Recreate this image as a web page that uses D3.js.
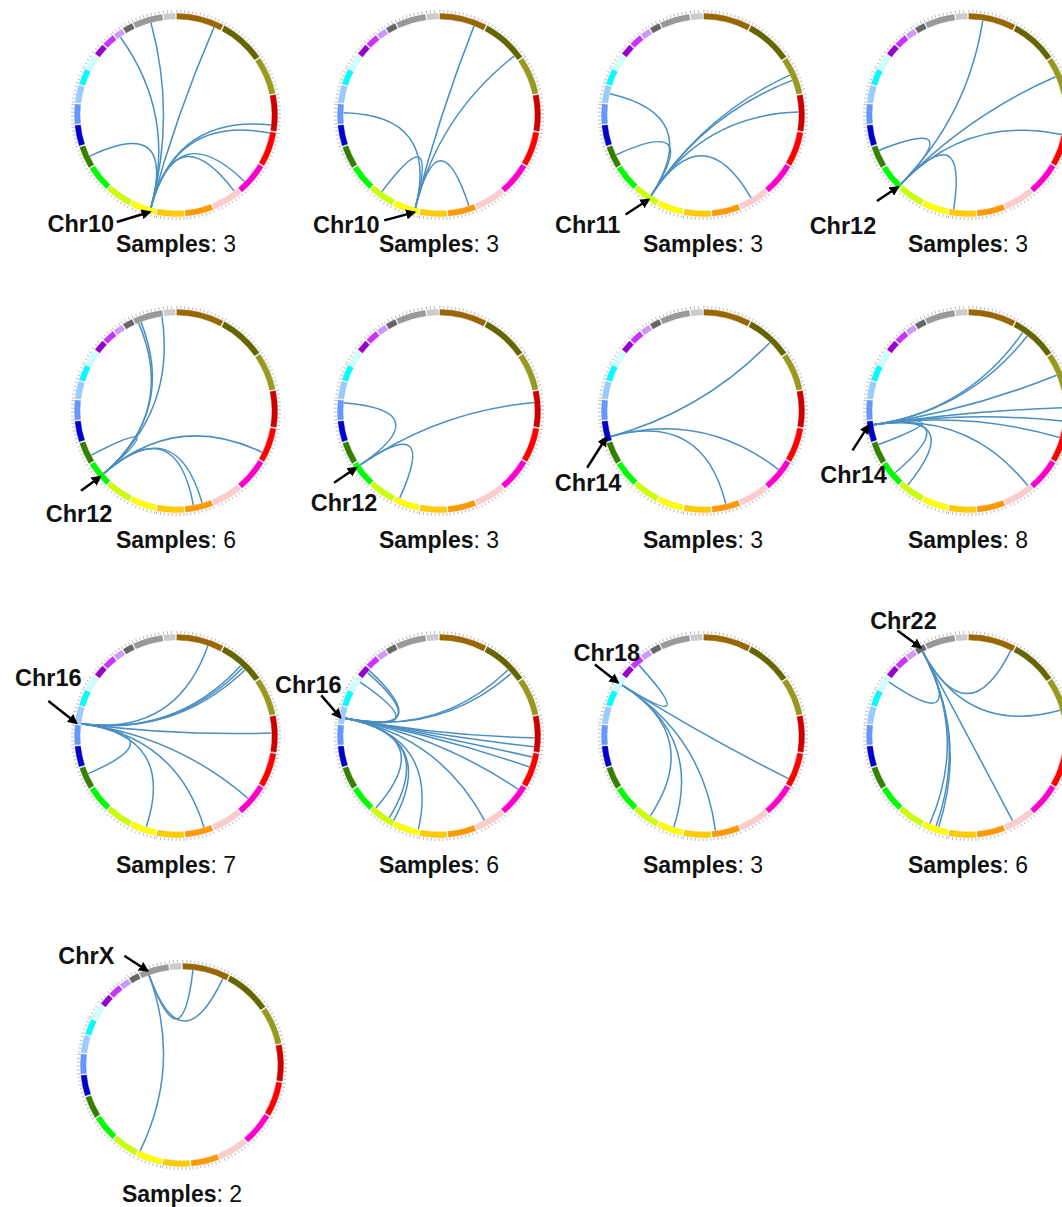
<!DOCTYPE html>
<html>
<head>
<meta charset="utf-8">
<script src="https://cdn.jsdelivr.net/npm/d3@7"></script>
<style>
	body { margin: 0; background: #fff; }
	svg { display: block; font-family: "Liberation Sans", Arial, sans-serif; }
</style>
</head>
<body>
<div id="chart"></div>
<script>
// CHROMOSOMES (hg19 lengths, Mb)
var chromNames = ["chr1","chr2","chr3","chr4","chr5","chr6","chr7","chr8","chr9","chr10","chr11","chr12",
	"chr13","chr14","chr15","chr16","chr17","chr18","chr19","chr20","chr21","chr22","chrX","chrY"];
var chromLengths = [249,243,198,191,181,171,159,146,141,136,135,134,115,107,103,90,81,78,59,63,48,51,155,59];
var chromColors = ["#996600","#666600","#99991e","#cc0000","#ff0000","#ff00cc","#ffcccc","#ff9900","#ffcc00",
	"#ffff00","#ccff00","#00ff00","#358000","#0000cc","#6699ff","#99ccff","#00ffff","#ccffff","#9900cc",
	"#cc33ff","#cc99ff","#666666","#999999","#cccccc"];

// PANELS
var panelChrom = ["Chr10","Chr10","Chr11","Chr12","Chr12","Chr12","Chr14","Chr14","Chr16","Chr16","Chr18","Chr22","ChrX"];
var panelSamples = [3,3,3,3,6,3,3,8,7,6,3,6,2];
// breakpoint on the labelled chromosome [chrom, Mb]
var panelSource = [["chr10",30],["chr10",22],["chr11",47],["chr12",8],["chr12",53],["chr12",113],
	["chr14",20],["chr14",86],["chr16",2],["chr16",32],["chr18",40],["chr22",28],["chrX",42]];
// partner breakpoints [chrom, Mb]
var panelTargets = [
	[["chr21",18],["chrX",88],["chr1",211],["chr13",52],["chr4",162],["chr5",6],["chr6",122],["chr7",20]],
	[["chr15",58],["chr11",83],["chr1",193],["chr2",215],["chr8",28]],
	[["chr16",52],["chr13",60],["chr3",86],["chr3",118],["chr4",90],["chr7",87]],
	[["chr13",87],["chr1",77],["chr3",96],["chr5",15],["chr9",120]],
	[["chrX",16],["chrX",30],["chrX",150],["chr13",33],["chr5",142],["chr8",100],["chr8",50]],
	[["chr15",91],["chr4",59],["chr10",114]],
	[["chr2",145],["chr6",64],["chr8",69]],
	[["chr2",58],["chr2",90],["chr3",111],["chr4",88],["chr4",162],["chr5",54],["chr7",8],["chr13",97],["chr12",59],["chr11",105]],
	[["chr1",174],["chr2",130],["chr2",145],["chr2",163],["chr4",90],["chr6",92],["chr8",39],["chr10",57],["chr13",73]],
	[["chr19",40],["chr19",55],["chr18",60],["chr2",163],["chr2",189],["chr4",116],["chr4",166],["chr5",23],["chr5",80],
		["chr6",28],["chr7",103],["chr10",5],["chr11",5],["chr11",33],["chr11",125]],
	[["chr20",30],["chr5",150],["chr8",127],["chr10",54],["chr11",53]],
	[["chr1",240],["chr3",170],["chr18",60],["chr10",107],["chr10",70],["chr10",55],["chr7",109]],
	[["chr1",56],["chr1",228],["chr10",130]]
];

// LAYOUT
var width = 1062, height = 1207;
var colX = [176, 439, 703, 968];
var rowY = [115, 411, 736, 1065];
var rowShift = [0, 0, 0, 6];
// arrow tail relative to tip, label centre relative to tail
var arrowVec = [[-33,10],[-30,8],[-23,15],[-21,14],[-19,14],[-22,15],[-19,30],[-16,25],[-28,-22],[-19,-22],[-23,-18],[-23,-17],[-23,-15]];
var labelVec = [[-36,2],[-38,4],[-38,10],[-34,25],[-2,23],[10,20],[1,15],[1,24],[0,-23],[-13,-11],[12,-12],[6,-10],[-38,0]];

var rIn = 96, rOut = 101.5, rLink = 95.5;
var gapDeg = 1;

// angular scale per chromosome
var usable = 360 - gapDeg * chromNames.length;
var total = d3.sum(chromLengths);
var chromScale = {};
var acc = gapDeg / 2;
chromNames.forEach(function(name, i){
	var span = chromLengths[i] / total * usable;
	chromScale[name] = d3.scaleLinear()
		.domain([0, chromLengths[i]])
		.range([acc, acc + span].map(function(a){ return a * Math.PI / 180; }));
	acc += span + gapDeg;
});

function angleOf(loc){ return chromScale[loc[0]](loc[1]); }
function pt(a, r){ return [r * Math.sin(a), -r * Math.cos(a)]; }

var svg = d3.select('#chart')
	.append('svg')
		.attr('width', width)
		.attr('height', height);

svg.append('rect').attr('width', width).attr('height', height).attr('fill', '#fff');

svg.append('defs').append('marker')
	.attr('id', 'arrowhead')
	.attr('viewBox', '0 0 10 10')
	.attr('refX', 8)
	.attr('refY', 5)
	.attr('markerWidth', 4.2)
	.attr('markerHeight', 4.2)
	.attr('orient', 'auto')
	.append('path')
		.attr('d', 'M0,0 L10,5 L0,10 z')
		.attr('fill', '#000');

var bandArc = d3.arc().innerRadius(rIn).outerRadius(rOut);

panelChrom.forEach(function(label, p){
	var row = Math.floor(p / 4), col = p % 4;
	var cx = colX[col] + rowShift[row], cy = rowY[row];

	var g = svg.append('g')
		.attr('transform', `translate(${cx},${cy})`);

	// ticks
	var ticks = g.append('g').attr('class', 'ticks');
	chromNames.forEach(function(name, i){
		d3.range(0, chromLengths[i] + 1, 20).forEach(function(mb){
			var a = chromScale[name](mb);
			var p0 = pt(a, rOut + 0.8), p1 = pt(a, rOut + 3.6);
			ticks.append('line')
				.attr('x1', p0[0]).attr('y1', p0[1])
				.attr('x2', p1[0]).attr('y2', p1[1])
				.style('stroke', '#a8a8a8')
				.style('stroke-width', 0.8);
		});
	});

	// chromosome bands
	g.append('g').selectAll('path')
		.data(chromNames)
		.enter().append('path')
			.attr('d', function(name){
				var r = chromScale[name].range();
				return bandArc({startAngle: r[0], endAngle: r[1]});
			})
			.style('fill', function(name, i){ return chromColors[i]; })
			.style('stroke', function(name, i){ return d3.color(chromColors[i]).darker(0.3); })
			.style('stroke-width', 0.4);

	// links
	var a0 = angleOf(panelSource[p]);
	var s = pt(a0, rLink);
	g.append('g').selectAll('path')
		.data(panelTargets[p])
		.enter().append('path')
			.attr('d', function(t){
				var e = pt(angleOf(t), rLink);
				var path = d3.path();
				path.moveTo(s[0], s[1]);
				path.quadraticCurveTo(0, 0, e[0], e[1]);
				return path.toString();
			})
			.style('fill', 'none')
			.style('stroke', '#4a8fc2')
			.style('stroke-width', 1.5);

	// arrow and chromosome label
	var tip = pt(a0, rOut - 1);
	var tail = [tip[0] + arrowVec[p][0], tip[1] + arrowVec[p][1]];
	g.append('line')
		.attr('x1', tail[0]).attr('y1', tail[1])
		.attr('x2', tip[0]).attr('y2', tip[1])
		.style('stroke', '#000')
		.style('stroke-width', 2.4)
		.attr('marker-end', 'url(#arrowhead)');

	g.append('text')
		.text(label)
		.attr('x', tail[0] + labelVec[p][0])
		.attr('y', tail[1] + labelVec[p][1])
		.attr('dy', '0.35em')
		.attr('text-anchor', 'middle')
		.style('font-size', '23.5px')
		.style('font-weight', 'bold')
		.style('fill', '#111');

	// sample count
	var st = g.append('text')
		.attr('x', 0)
		.attr('y', 137)
		.attr('text-anchor', 'middle')
		.style('font-size', '23px')
		.style('fill', '#111');
	st.append('tspan').style('font-weight', 'bold').text('Samples');
	st.append('tspan').text(': ' + panelSamples[p]);
});
</script>
</body>
</html>
